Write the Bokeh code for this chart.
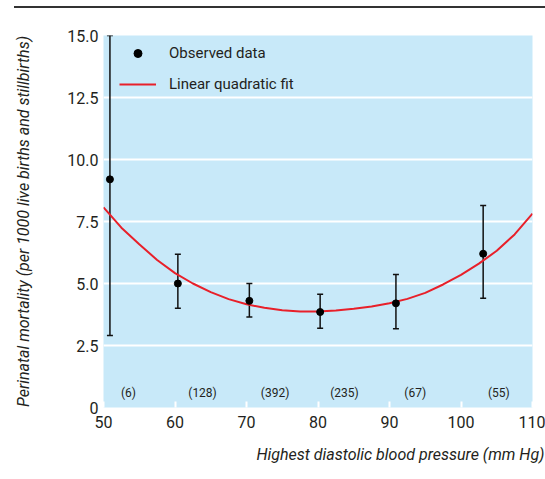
from bokeh.plotting import figure
from bokeh.models import (ColumnDataSource, Whisker, TeeHead, Legend, LegendItem,
                          FixedTicker, Title, Div)
from bokeh.layouts import column
from bokeh.embed import file_html
from bokeh.resources import INLINE

# ---- data ----
obs_x = [50.9, 60.4, 70.4, 80.3, 90.9, 103.1]
obs_y = [9.2, 5.0, 4.3, 3.85, 4.2, 6.2]
err_lo = [2.9, 4.0, 3.65, 3.2, 3.18, 4.41]
err_hi = [15.0, 6.18, 5.0, 4.57, 5.36, 8.15]

count_labels = ["(6)", "(128)", "(392)", "(235)", "(67)", "(55)"]
count_x = [53.5, 63.85, 74.0, 83.7, 93.6, 105.3]
count_y = [0.58] * 6

fit_x = [50, 52.5, 55, 57.5, 60, 62.5, 65, 67.5, 70, 72.5, 75, 77.5, 80,
         82.5, 85, 87.5, 90, 92.5, 95, 97.5, 100, 102.5, 105, 107.5, 110]
fit_y = [8.07, 7.25, 6.58, 5.95, 5.42, 5.0, 4.65, 4.37, 4.16, 4.02, 3.92, 3.87, 3.87,
         3.91, 3.98, 4.07, 4.20, 4.38, 4.62, 4.96, 5.35, 5.80, 6.32, 6.98, 7.82]

x_ticks = [50, 60, 70, 80, 90, 100, 110]
y_ticks = [0, 2.5, 5.0, 7.5, 10.0, 12.5, 15.0]
y_tick_labels = ["0", "2.5", "5.0", "7.5", "10.0", "12.5", "15.0"]
x_title = "Highest diastolic blood pressure (mm Hg)"

FONT = "Roboto"
TXT = "#231f20"
BG = "#c8e9f9"

# ---- thin rule across the top of the page ----
rule = Div(text="", width=531, height=2, margin=(6, 0, 0, 14),
           styles={"background-color": "#333333", "overflow": "hidden"})

# ---- main chart ----
p = figure(width=545, height=471, x_range=(50, 110), y_range=(0, 15),
           output_backend="svg", toolbar_location=None,
           min_border_left=103, min_border_right=13, min_border_top=27,
           min_border_bottom=72)
p.background_fill_color = BG
p.border_fill_color = "white"
p.outline_line_color = None

xa = p.xaxis[0]
xa.ticker = FixedTicker(ticks=x_ticks)
xa.axis_line_color = None
xa.major_tick_in = 6
xa.major_tick_out = 0
xa.major_tick_line_color = "white"
xa.major_tick_line_width = 2
xa.minor_tick_line_color = None
xa.major_label_text_font = FONT
xa.major_label_text_font_size = "16px"
xa.major_label_text_color = TXT
xa.major_label_standoff = 8

ya = p.yaxis[0]
ya.ticker = FixedTicker(ticks=y_ticks)
ya.major_label_overrides = {t: s for t, s in zip(y_ticks, y_tick_labels)}
ya.axis_line_color = None
ya.major_tick_in = 0
ya.major_tick_out = 0
ya.minor_tick_line_color = None
ya.major_label_text_font = FONT
ya.major_label_text_font_size = "16px"
ya.major_label_text_color = TXT
ya.major_label_standoff = 5
ya.axis_label = "Perinatal mortality (per 1000 live births and stillbirths)"
ya.axis_label_text_font = FONT
ya.axis_label_text_font_style = "italic"
ya.axis_label_text_font_size = "16px"
ya.axis_label_text_color = TXT
ya.axis_label_standoff = 31

p.xgrid.grid_line_color = None
p.ygrid.ticker = FixedTicker(ticks=[2.5, 5.0, 7.5, 10.0, 12.5])
p.ygrid.grid_line_color = "white"
p.ygrid.grid_line_width = 2

fit_r = p.line(fit_x, fit_y, line_color="#e8202a", line_width=2)

src = ColumnDataSource(dict(x=obs_x, y=obs_y, lo=err_lo, hi=err_hi))
wh = Whisker(base="x", lower="lo", upper="hi", source=src,
             line_color="#111111", line_width=1.5,
             upper_head=TeeHead(size=6, line_color="#111111", line_width=1.5),
             lower_head=TeeHead(size=6, line_color="#111111", line_width=1.5))
p.add_layout(wh)
pts = p.scatter("x", "y", source=src, size=7, color="black")

p.text(count_x, count_y, text=count_labels, text_font_size="12px",
       text_font={"value": FONT}, text_color=TXT, text_align="center",
       text_baseline="middle")

# legend marker (off-range point, only used for the legend swatch)
leg_dot = p.scatter(x=[0], y=[0], size=10, color="black")
legend = Legend(items=[LegendItem(label="Observed data", renderers=[leg_dot]),
                       LegendItem(label="Linear quadratic fit", renderers=[fit_r])],
                location=(16, 313), padding=0, margin=0, spacing=11,
                glyph_width=37, glyph_height=20, label_height=20,
                label_standoff=13, background_fill_alpha=0,
                border_line_color=None,
                label_text_font=FONT, label_text_font_size="15px",
                label_text_color=TXT)
p.add_layout(legend)

# x axis title, right-aligned under the axis like the reference
xt = Title(text=x_title, align="right", offset=-12, standoff=24,
           text_font=FONT, text_font_style="italic",
           text_font_size="16px", text_color=TXT)
p.add_layout(xt, "below")

layout = column(rule, p, spacing=0)
open("out.html", "w").write(file_html(layout, INLINE))
